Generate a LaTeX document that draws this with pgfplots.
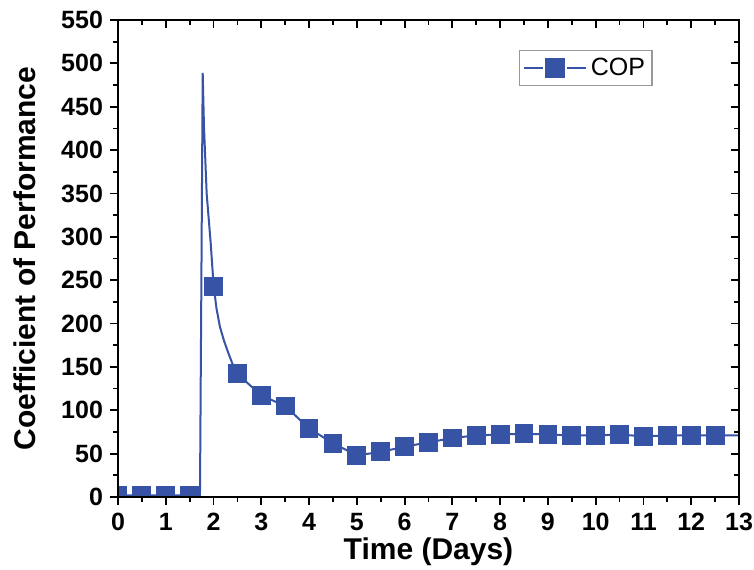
\documentclass[border=0pt]{standalone}
\usepackage{pgfplots}
\pgfplotsset{compat=1.18}
\usepackage{fontspec}
\setmainfont{Liberation Sans}
\definecolor{copblue}{RGB}{55,83,165}
\begin{document}
\begin{tikzpicture}
\pgfplotsset{
  commonax/.style={
    width=310.5pt, height=238.5pt, scale only axis,
    xmin=0, xmax=13, ymin=0, ymax=550,
    xtick={0,1,...,13}, ytick={0,50,...,550},
    minor x tick num=1, minor y tick num=1,
    major tick style={black, line width=0.9pt},
    minor tick style={black, line width=0.9pt},
    major tick length=4pt, minor tick length=2.5pt,
    axis line style={line width=0.9pt},
  }
}
\begin{axis}[
  commonax, name=ax,
  tick align=outside,
  xtick pos=bottom, ytick pos=left,
  /pgf/number format/assume math mode=true,
  ticklabel style={font=\fontsize{12.5}{14}\selectfont\bfseries},
  label style={font=\fontsize{15}{17}\selectfont\bfseries},
  xlabel={Time (Days)}, ylabel={Coefficient of Performance},
  xlabel style={at={(axis description cs:0.5,0)}, anchor=north, yshift=-19pt, inner sep=1pt},
  ylabel style={yshift=6pt},
  xticklabel style={yshift=-3pt, inner sep=1pt},
  clip marker paths=true,
  legend style={at={(0.646,0.937)}, anchor=north west, draw=gray!80, line width=0.6pt,
    font=\fontsize{12.5}{14}\selectfont, inner xsep=1.5pt, inner ysep=1.5pt},
  legend cell align=left,
  legend image code/.code={
    \draw[#1, mark=none] (0pt,0pt) -- (9.5pt,0pt);
    \draw[#1, mark=none] (21.5pt,0pt) -- (31pt,0pt);
    \draw[#1, only marks] plot coordinates {(15.5pt,0pt)};
  },
]
\addplot[copblue, line width=1pt, mark=none, forget plot] coordinates {
(0,2) (1.716,2) (1.745,245) (1.773,489) (1.80,427) (1.856,350) (1.94,293) (2.0,245)
(2.06,218) (2.135,196) (2.22,180) (2.31,166) (2.4,153) (2.5,142) (3,117) (3.5,105) (4,79) (4.5,62) (5,48) (5.5,52)
(6,58) (6.5,63) (7,68) (7.5,71) (8,72) (8.5,73) (9,72) (9.5,71) (10,71) (10.5,72)
(11,70) (11.5,71) (12,71) (12.5,71) (13,71)
};
\addlegendimage{copblue, line width=1pt, mark=square*, mark size=4.4pt, mark options={fill=copblue, draw=copblue, solid}}
\addlegendentry{COP}
\addplot[copblue, line width=1pt, only marks, mark=square*, mark size=4.2pt, mark options={fill=copblue, draw=copblue}, forget plot] coordinates {
(0,2) (0.5,2) (1,2) (1.5,2) (2,243) (2.5,142) (3,117) (3.5,105) (4,79) (4.5,62) (5,48)
(5.5,52) (6,58) (6.5,63) (7,68) (7.5,71) (8,72) (8.5,73) (9,72) (9.5,71) (10,71)
(10.5,72) (11,70) (11.5,71) (12,71) (12.5,71)
};
\end{axis}
\begin{axis}[
  commonax,
  tick align=inside,
  xtick pos=top, ytick pos=right,
  xticklabels={}, yticklabels={},
]
\end{axis}
\pgfresetboundingbox
\path ([shift={(-59pt,-36.5pt)}]ax.south west) rectangle ([shift={(7.5pt,10pt)}]ax.north east);
\end{tikzpicture}
\end{document}
